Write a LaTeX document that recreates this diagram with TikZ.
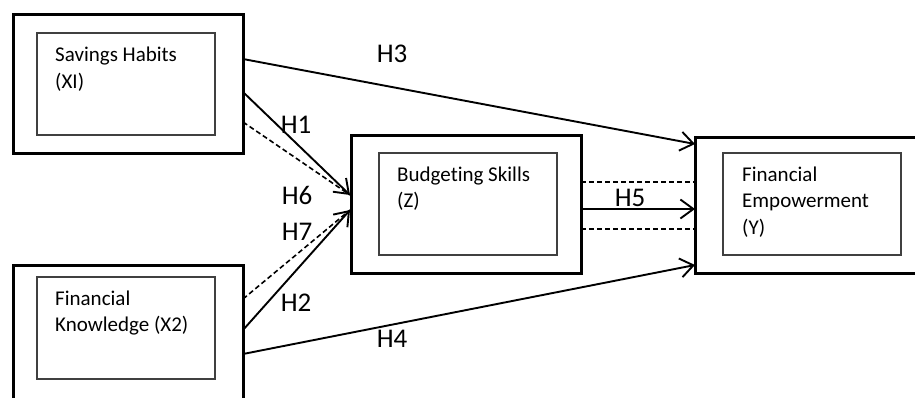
\documentclass[tikz,border=0pt]{standalone}
\usepackage{fontspec}
\setmainfont[Ligatures={NoCommon}]{Carlito}
\usetikzlibrary{arrows.meta}
\definecolor{innergray}{HTML}{404040}
\tikzset{
  outerbox/.style={draw=black, line width=3pt, minimum width=230pt, inner sep=0pt},
  innerbox/.style={draw=innergray, line width=1.6pt, minimum width=178pt, minimum height=102pt, inner sep=0pt},
  boxtext/.style={font=\fontsize{21}{26}\selectfont, anchor=base west, inner sep=0pt},
  hlabel/.style={font=\fontsize{27}{32}\selectfont, inner sep=0pt},
  conn/.style={line width=1.9pt, -{Straight Barb[length=13pt, width=19pt, line width=1.9pt]}},
  dconn/.style={line width=1.6pt, dash pattern=on 5pt off 3pt},
}
\begin{document}
\begin{tikzpicture}[x=1pt, y=-1pt]
\useasboundingbox (0,0) rectangle (915,397);
\clip (0,0) rectangle (915,397);
% outer boxes
\node[outerbox, minimum height=139pt] (x1o) at (128,83.5) {};
\node[outerbox, minimum height=170pt] (x2o) at (128,350) {};
\node[outerbox, minimum height=138pt] (zo) at (466,204) {};
\node[outerbox, minimum height=136pt] (yo) at (810,205) {};
% inner boxes
\node[innerbox] (x1i) at (126,84) {};
\node[innerbox] (x2i) at (126,328) {};
\node[innerbox] (zi) at (468,204) {};
\node[innerbox] (yi) at (812,204) {};
% texts
\node[boxtext] (t1a) at (55,61.5) {Savings Habits};
\node[boxtext] (t1b) at (55,88) {(XI)};
\node[boxtext] (t2a) at (55,305) {Financial};
\node[boxtext] (t2b) at (55,331.5) {Knowledge (X2)};
\node[boxtext] (tza) at (397,181) {Budget\kern0pt ing Skills};
\node[boxtext] (tzb) at (397,207.5) {(Z)};
\node[boxtext] (tya) at (742,181) {Financial};
\node[boxtext] (tyb) at (742,207.5) {Empowerment};
\node[boxtext] (tyc) at (742,234) {(Y)};
% connector endpoints
\coordinate (h3s) at (243,59);
\coordinate (h3e) at (695,144);
\coordinate (h1s) at (243,92);
\coordinate (h6s) at (243,122);
\coordinate (ztop) at (350,195);
\coordinate (zbot) at (350,210);
\coordinate (h7s) at (243,299);
\coordinate (h2s) at (243,330);
\coordinate (h4s) at (243,354);
\coordinate (h4e) at (695,265);
\coordinate (h5s) at (581,209);
\coordinate (h5e) at (695,209);
\coordinate (d1s) at (581,182);
\coordinate (d1e) at (694,182);
\coordinate (d2s) at (581,229);
\coordinate (d2e) at (695,229);
% connectors
\draw[conn] (h3s) -- (h3e);
\draw[dconn] (h6s) -- (ztop);
\draw[conn] (h1s) -- (ztop);
\draw[dconn] (h7s) -- (zbot);
\draw[conn] (h2s) -- (zbot);
\draw[conn] (h4s) -- (h4e);
\draw[conn] (h5s) -- (h5e);
\draw[dconn] (d1s) -- (d1e);
\draw[dconn] (d2s) -- (d2e);
% labels
\node[hlabel] (lh3) at (392,54) {H3};
\node[hlabel] (lh1) at (296,125) {H1};
\node[hlabel] (lh6) at (297,195) {H6};
\node[hlabel] (lh7) at (297,232) {H7};
\node[hlabel] (lh2) at (296,303) {H2};
\node[hlabel] (lh4) at (392,339) {H4};
\node[hlabel] (lh5) at (630,198) {H5};
\end{tikzpicture}
\end{document}
